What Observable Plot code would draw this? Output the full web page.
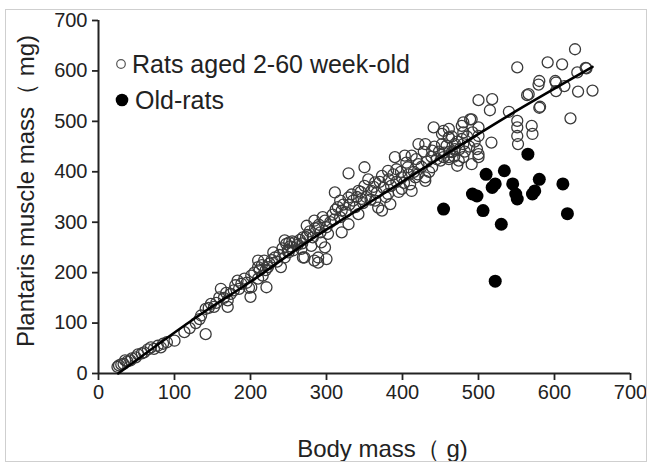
<!DOCTYPE html>
<html><head><meta charset="utf-8">
<script src="https://cdn.jsdelivr.net/npm/d3@7"></script>
<script src="https://cdn.jsdelivr.net/npm/@observablehq/plot@0.6"></script>
<style>
body{margin:0;background:#fff;}
#wrap{position:relative;width:649px;height:463px;font-family:"Liberation Sans",Arial,sans-serif;color:#222;}
#border{position:absolute;left:5px;top:9px;width:642px;height:453px;border:1px solid #cfcfcf;box-sizing:border-box;pointer-events:none;}
.leg{position:absolute;display:flex;align-items:center;height:30px;font-size:25px;white-space:nowrap;}
.leg svg{display:block;}
</style></head>
<body>
<div id="wrap">
  <div id="border"></div>
  <div id="chart"></div>
  <div class="leg" style="left:114px;top:49px"><svg width="14" height="14"><circle cx="7" cy="7" r="4.3" fill="none" stroke="#555" stroke-width="1.2"/></svg><span style="margin-left:4px">Rats aged 2-60 week-old</span></div>
  <div class="leg" style="left:115px;top:85px"><svg width="14" height="14"><circle cx="7" cy="7" r="6.3" fill="#000"/></svg><span style="margin-left:6px">Old-rats</span></div>
</div>
<script>
const xTicks = [0,100,200,300,400,500,600,700];
const yTicks = [0,100,200,300,400,500,600,700];
const xTitle = "Body mass（ g)";
const yTitle = "Plantaris muscle mass（ mg)";

// Rats aged 2-60 week-old: body mass (g)
const youngMass = [
25,27,33,35,42,49,60,69,73,82,85,100,113,141,133,141,148,152,159,161,170,170,174,183,185,192,201,201,200,210,210,210,216,218,221,223,232,240,245,245,251,256,269,269,274,
284,289,
247,249,258,267,273,280,284,289,293,298,289,300,271,298,302,311,318,320,320,329,329,329,335,342,342,346,350,350,359,364,364,368,373,373,381,381,384,390,392,399,399,403,407,412,412,417,421,421,430,430,430,439,439,441,450,452,461,461,465,469,474,
627,551,591,610,642,630,580,579,602,602,613,631,650,564,581,621,500,518,515,540,551,551,551,552,570,571,517,491,480,500,500,461,454,480,480,469,461,472,491,500,500,480,454,641,580,601,566,489,478,461,
30,38,44,52,57,65,78,90,120,128,135,145,155,165,168,178,180,188,195,198,205,212,215,220,225,228,230,235,238,242,250,252,255,262,265,268,275,278,282,285,290,292,295,300,305,308,310,312,315,318,322,325,330,333,338,340,345,348,352,355,358,362,366,370,375,378,382,385,388,392,395,398,402,405,408,410,415,418,420,425,428,432,435,438,442,445,448,452,455,458,462,465,468,472,475,478,482,485,488,492,495,498
];
// Rats aged 2-60 week-old: plantaris muscle mass (mg)
const youngMuscle = [
13,16,19,26,26,32,42,52,49,52,59,65,82,78,108,128,138,132,151,168,145,132,158,184,168,188,194,171,152,224,211,188,194,224,171,211,230,211,230,264,260,244,270,230,293,
224,220,
257,244,260,247,270,253,303,290,260,250,230,227,230,303,277,359,343,323,280,349,296,397,343,362,316,346,409,372,362,343,379,329,392,323,356,402,336,429,405,366,389,432,409,362,432,389,415,455,382,389,455,409,442,488,422,475,468,429,439,455,422,
643,607,617,613,605,597,580,573,577,560,570,559,561,552,529,506,542,544,522,519,501,488,471,455,491,475,458,504,498,488,471,468,481,478,455,445,425,412,415,429,435,429,429,606,527,580,554,504,491,485,
18,24,30,38,40,48,55,62,90,100,115,130,140,150,160,165,175,178,180,170,200,205,215,205,218,225,240,222,235,248,240,252,262,255,265,258,275,282,270,288,295,280,310,290,300,315,305,325,330,310,335,320,335,355,330,350,360,338,350,385,345,370,358,380,368,350,385,372,395,380,360,400,378,418,395,375,400,425,395,410,440,420,400,430,450,425,440,455,438,452,440,470,430,460,445,465,440,470,450,478,460,445
];

// Old rats
const oldMass = [565,510,534,522,518,545,549,551,580,574,571,611,492,498,454,506,530,617,522];
const oldMuscle = [435,395,402,376,369,376,356,346,385,362,356,376,356,352,326,323,296,317,183];

// Fitted curve
const fitMass = [26,135,200,276,350,452,540,650];
const fitMuscle = [0,118,182,262,333,430,512,608];

const young = youngMass.map((m,i)=>({m, p: youngMuscle[i]}));
const old = oldMass.map((m,i)=>({m, p: oldMuscle[i]}));
const fit = fitMass.map((m,i)=>({m, p: fitMuscle[i]}));

const chart = Plot.plot({
  width: 649, height: 463,
  marginLeft: 98, marginRight: 19, marginTop: 20, marginBottom: 90,
  x: {domain: [0,700]},
  y: {domain: [0,700]},
  style: {fontFamily: "'Liberation Sans', Arial, sans-serif", fontSize: "20px", color: "#222", background: "transparent", overflow: "visible"},
  marks: [
    Plot.axisX({ticks: xTicks, tickSize: 7, tickPadding: 4, fontSize: 20, label: null, strokeWidth: 1.8, stroke: "#222"}),
    Plot.axisY({ticks: yTicks, tickSize: 6, tickPadding: 5, fontSize: 20, label: null, strokeWidth: 1.8, stroke: "#222"}),
    Plot.ruleY([0], {x1: 0, x2: 700, strokeWidth: 2, stroke: "#222"}),
    Plot.ruleX([0], {y1: 0, y2: 700, strokeWidth: 2, stroke: "#222"}),
    Plot.dot(young, {x: "m", y: "p", r: 5.5, stroke: "#3a3a3a", strokeWidth: 1.3, fill: "none"}),
    Plot.line(fit, {x: "m", y: "p", stroke: "#000", strokeWidth: 2.6, curve: "monotone-x"}),
    Plot.dot(old, {x: "m", y: "p", r: 6.5, fill: "#000", stroke: "none"}),
    Plot.text([xTitle], {frameAnchor: "bottom", lineAnchor: "middle", textAnchor: "middle", dy: 76, dx: 18, fontSize: 24, fill: "#222"}),
    Plot.text([yTitle], {frameAnchor: "left", lineAnchor: "middle", textAnchor: "middle", rotate: -90, dx: -72, dy: -6, fontSize: 24, fill: "#222"})
  ]
});
document.getElementById("chart").appendChild(chart);
</script>
</body></html>
